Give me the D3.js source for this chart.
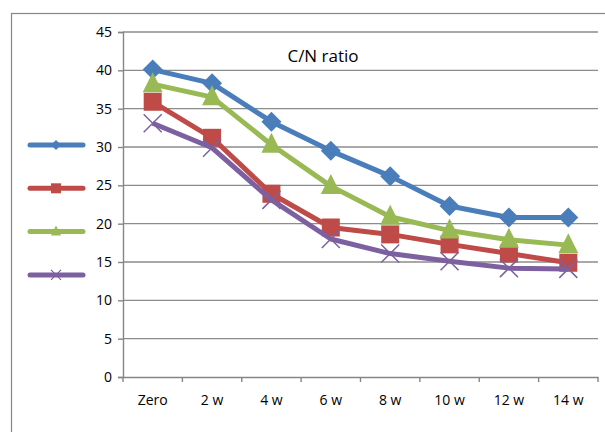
<!DOCTYPE html>
<html>
<head>
<meta charset="utf-8">
<script src="https://cdn.jsdelivr.net/npm/d3@7"></script>
<style>
  body { margin: 0; background: #fff; }
  text { font-family: "Open Sans", Lato, sans-serif; fill: #000; }
</style>
</head>
<body>
<div id="chart"></div>
<script>
// chart data
var categories = ["Zero", "2 w", "4 w", "6 w", "8 w", "10 w", "12 w", "14 w"];
var blueSeries = [40.1, 38.3, 33.3, 29.5, 26.2, 22.3, 20.8, 20.8];
var redSeries = [35.9, 31.2, 23.9, 19.5, 18.6, 17.3, 16.1, 14.9];
var greenSeries = [38.2, 36.5, 30.3, 24.9, 20.9, 19.1, 17.9, 17.2];
var purpleSeries = [33.1, 29.9, 23.1, 18.0, 16.1, 15.1, 14.2, 14.1];
var yTicks = [0, 5, 10, 15, 20, 25, 30, 35, 40, 45];

var w = 605,
	h = 432;
var plotLeft = 123,
	plotRight = 598,
	plotTop = 32,
	plotBottom = 377;

var svg = d3.select("#chart").append("svg").attr("width", w).attr("height", h);

// outer frame (runs off the right and bottom edge)
svg.append("rect").attr("x", 11.5).attr("y", 13.5).attr("width", 620).attr("height", 440)
	.attr("fill", "none").attr("stroke", "#868686").attr("stroke-width", 1.2);

var x = d3.scaleBand().domain(categories).range([plotLeft, plotRight]);
var y = d3.scaleLinear().domain([0, 45]).range([plotBottom, plotTop]);

// gridlines
svg.append("g").selectAll("line").data(yTicks.filter(function(d) { return d > 0; })).enter()
	.append("line")
	.attr("x1", plotLeft).attr("x2", plotRight)
	.attr("y1", function(d) { return y(d); }).attr("y2", function(d) { return y(d); })
	.attr("stroke", "#8c8c8c").attr("stroke-width", 1.4);

// y axis
var yAxis = svg.append("g").attr("transform", "translate(" + plotLeft + ",0)")
	.call(d3.axisLeft(y).tickValues(yTicks).tickSize(5).tickPadding(6));
yAxis.select(".domain").attr("stroke", "#868686").attr("stroke-width", 1.4);
yAxis.selectAll(".tick line").attr("stroke", "#868686").attr("stroke-width", 1.4);
yAxis.selectAll("text").attr("font-size", 14).attr("fill", "#000");

// x axis
var xAxis = svg.append("g").attr("transform", "translate(0," + plotBottom + ")")
	.call(d3.axisBottom(x).tickSize(0).tickPadding(18));
xAxis.select(".domain").attr("stroke", "#868686").attr("stroke-width", 1.4);
xAxis.selectAll("text").attr("font-size", 14).attr("fill", "#000");
xAxis.selectAll("line.sep").data(d3.range(categories.length + 1)).enter()
	.append("line").classed("sep", true)
	.attr("x1", function(i) { return plotLeft + i * x.step(); })
	.attr("x2", function(i) { return plotLeft + i * x.step(); })
	.attr("y1", 0).attr("y2", 5)
	.attr("stroke", "#868686").attr("stroke-width", 1.4);

// title
svg.append("text").attr("x", 323).attr("y", 62).attr("text-anchor", "middle")
	.attr("font-size", 17).text("C/N ratio");

var series = [
	{ values: blueSeries, color: "#4a7ebb", marker: "diamond" },
	{ values: redSeries, color: "#be4b48", marker: "square" },
	{ values: greenSeries, color: "#98b954", marker: "triangle" },
	{ values: purpleSeries, color: "#7d60a0", marker: "cross" }
];

function drawMarker(layer, kind, cx, cy, color) {
	if (kind === "diamond") {
		layer.append("path").attr("d", "M0,-10L10,0L0,10L-10,0Z")
			.attr("transform", "translate(" + cx + "," + cy + ")").attr("fill", color);
	} else if (kind === "square") {
		layer.append("rect").attr("x", cx - 9).attr("y", cy - 9).attr("width", 18).attr("height", 18).attr("fill", color);
	} else if (kind === "triangle") {
		layer.append("path").attr("d", "M0,-12L10,8L-10,8Z")
			.attr("transform", "translate(" + cx + "," + cy + ")").attr("fill", color);
	} else {
		layer.append("path").attr("d", "M-9,-9L9,9M9,-9L-9,9")
			.attr("transform", "translate(" + cx + "," + cy + ")")
			.attr("stroke", color).attr("stroke-width", 1.5).attr("fill", "none");
	}
}

var line = d3.line()
	.x(function(d, i) { return x(categories[i]) + x.bandwidth() / 2; })
	.y(function(d) { return y(d); });

series.forEach(function(s) {
	var g = svg.append("g");
	g.append("path").datum(s.values).attr("d", line)
		.attr("fill", "none").attr("stroke", s.color).attr("stroke-width", 5)
		.attr("stroke-linejoin", "round");
	s.values.forEach(function(v, i) {
		drawMarker(g, s.marker, x(categories[i]) + x.bandwidth() / 2, y(v), s.color);
	});
});

// legend (entries without labels)
series.forEach(function(s, i) {
	var ly = 145 + i * 43.3;
	var g = svg.append("g");
	g.append("line").attr("x1", 30).attr("x2", 83).attr("y1", ly).attr("y2", ly)
		.attr("stroke", s.color).attr("stroke-width", 5).attr("stroke-linecap", "round");
	if (s.marker === "diamond") {
		g.append("path").attr("d", "M0,-5L5,0L0,5L-5,0Z").attr("transform", "translate(56," + ly + ")").attr("fill", s.color);
	} else if (s.marker === "square") {
		g.append("rect").attr("x", 51).attr("y", ly - 5).attr("width", 10).attr("height", 10).attr("fill", s.color);
	} else if (s.marker === "triangle") {
		g.append("path").attr("d", "M0,-6L5,4L-5,4Z").attr("transform", "translate(56," + ly + ")").attr("fill", s.color);
	} else {
		g.append("path").attr("d", "M-5,-5L5,5M5,-5L-5,5").attr("transform", "translate(56," + ly + ")")
			.attr("stroke", s.color).attr("stroke-width", 1.2);
	}
});
</script>
</body>
</html>
